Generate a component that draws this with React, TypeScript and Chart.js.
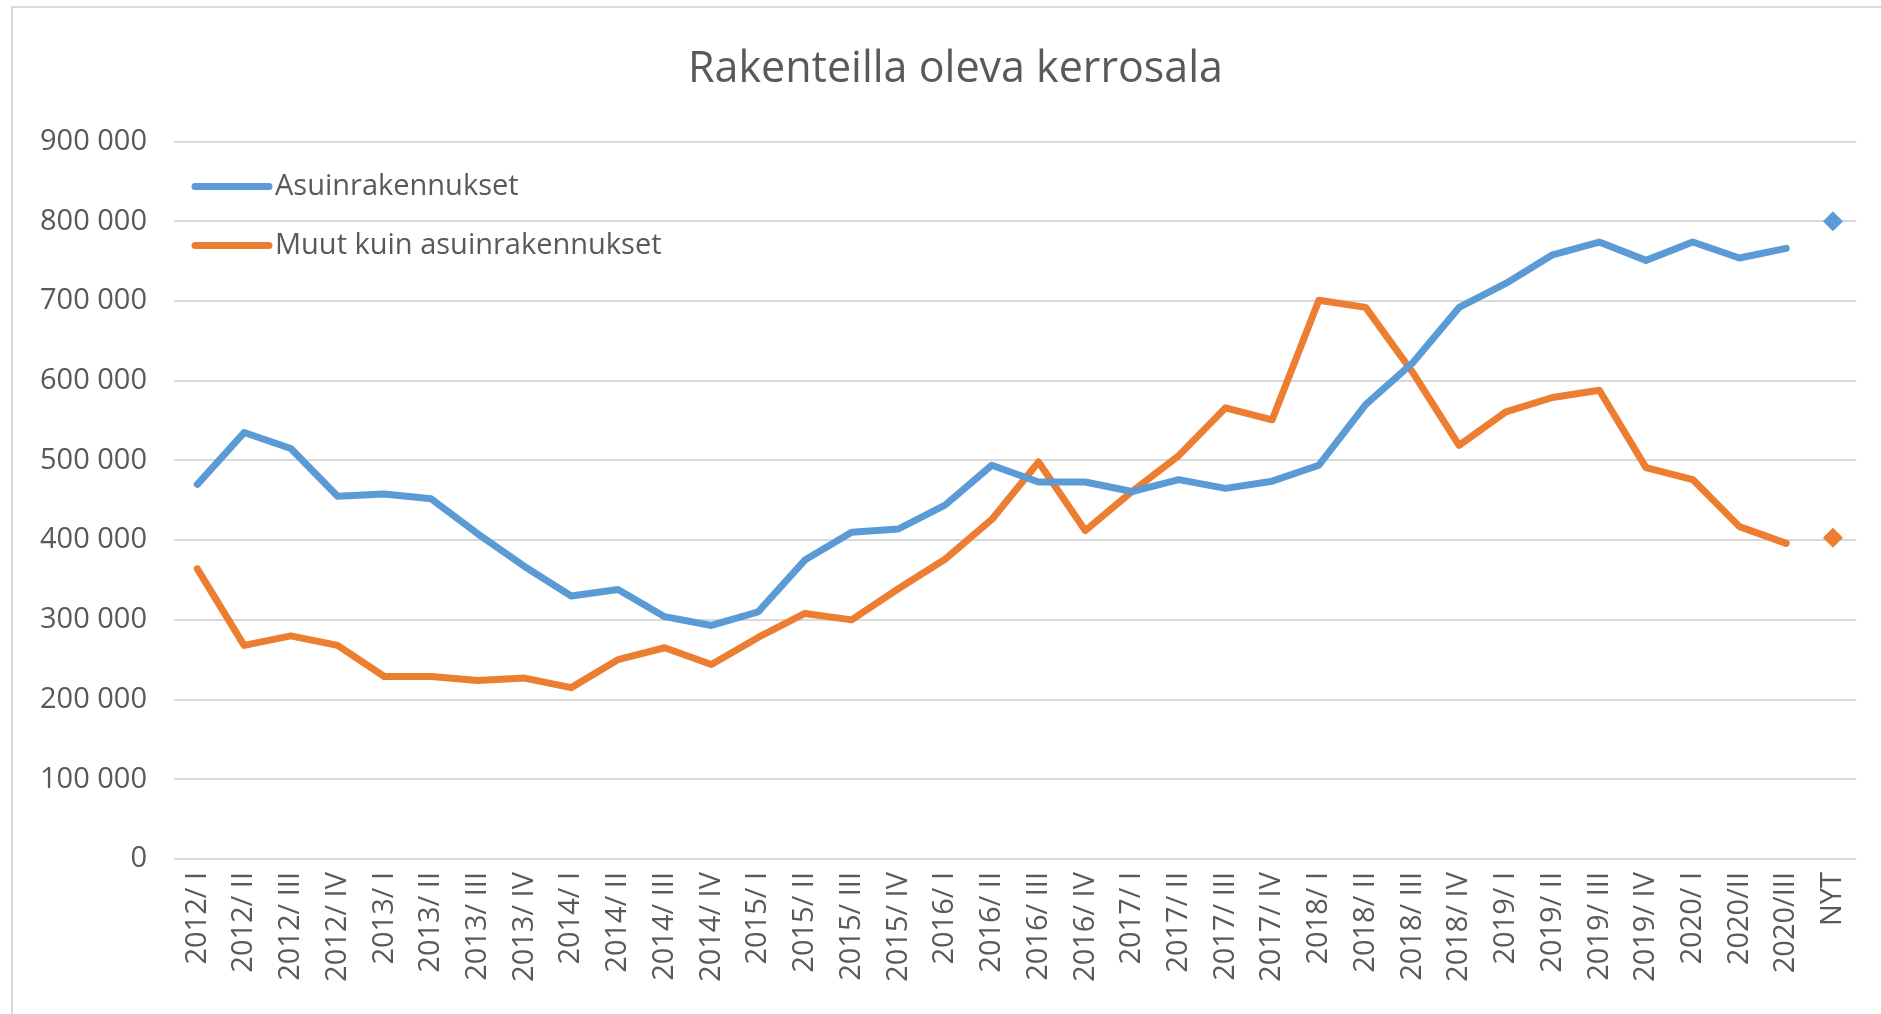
import React, { useEffect, useRef } from "react";
import { Chart, registerables } from "chart.js";

Chart.register(...registerables);

const categories = [
  "2012/ I", "2012/ II", "2012/ III", "2012/ IV",
  "2013/ I", "2013/ II", "2013/ III", "2013/ IV",
  "2014/ I", "2014/ II", "2014/ III", "2014/ IV",
  "2015/ I", "2015/ II", "2015/ III", "2015/ IV",
  "2016/ I", "2016/ II", "2016/ III", "2016/ IV",
  "2017/ I", "2017/ II", "2017/ III", "2017/ IV",
  "2018/ I", "2018/ II", "2018/ III", "2018/ IV",
  "2019/ I", "2019/ II", "2019/ III", "2019/ IV",
  "2020/ I", "2020/II", "2020/III", "NYT",
];

const asuinValues = [
  470000, 535000, 515000, 455000,
  458000, 452000, 408000, 367000,
  330000, 338000, 304000, 293000,
  310000, 375000, 410000, 414000,
  444000, 494000, 473000, 473000,
  461000, 476000, 465000, 474000,
  494000, 570000, 622000, 692000,
  722000, 758000, 774000, 751000,
  774000, 754000, 766000, null,
];

const muutValues = [
  364000, 268000, 280000, 268000,
  229000, 229000, 224000, 227000,
  215000, 250000, 265000, 244000,
  278000, 308000, 300000, 339000,
  376000, 426000, 498000, 412000,
  461000, 506000, 566000, 551000,
  701000, 692000, 611000, 519000,
  561000, 579000, 588000, 491000,
  476000, 417000, 396000, null,
];

const nytAsuin = 800000;
const nytMuut = 403000;

const yTicksMax = 900000;
const yTicksStep = 100000;

const seriesLabels = ["Asuinrakennukset", "Muut kuin asuinrakennukset"];
const titleText = "Rakenteilla oleva kerrosala";

const BLUE = "#5b9bd5";
const ORANGE = "#ed7d31";
const TEXT = "#595959";
const FONT = "'Open Sans', 'DejaVu Sans', sans-serif";

const fmt = (v: number) => String(v).replace(/\B(?=(\d{3})+(?!\d))/g, " ");

const nytSeries = (v: number) => categories.map((c, i) => (i === categories.length - 1 ? v : null));

const bgPlugin = {
  id: "bgAndBorder",
  beforeDraw(chart: any) {
    const { ctx, width, height } = chart;
    ctx.save();
    ctx.fillStyle = "#ffffff";
    ctx.fillRect(0, 0, width, height);
    ctx.strokeStyle = "#d9d9d9";
    ctx.lineWidth = 2;
    ctx.beginPath();
    ctx.moveTo(12, height + 5);
    ctx.lineTo(12, 7);
    ctx.lineTo(width + 5, 7);
    ctx.stroke();
    ctx.restore();
  },
};

const legendPlugin = {
  id: "insideLegend",
  afterDraw(chart: any) {
    const { ctx, chartArea } = chart;
    const rows = [0, 1];
    ctx.save();
    ctx.font = `29px ${FONT}`;
    ctx.textBaseline = "middle";
    ctx.textAlign = "left";
    rows.forEach((i) => {
      const ds = chart.data.datasets[i];
      const y = chartArea.top + 45 + i * 59;
      const x0 = chartArea.left + 21;
      ctx.strokeStyle = ds.borderColor;
      ctx.lineWidth = 7;
      ctx.lineCap = "round";
      ctx.beginPath();
      ctx.moveTo(x0, y);
      ctx.lineTo(x0 + 74, y);
      ctx.stroke();
      ctx.fillStyle = TEXT;
      ctx.fillText(ds.label, x0 + 80, y);
    });
    ctx.restore();
  },
};

export default function App() {
  const ref = useRef<HTMLCanvasElement | null>(null);

  useEffect(() => {
    if (!ref.current) return;
    const chart = new Chart(ref.current, {
      type: "line",
      data: {
        labels: categories,
        datasets: [
          {
            label: seriesLabels[0],
            data: asuinValues,
            borderColor: BLUE,
            backgroundColor: BLUE,
            borderWidth: 7,
            pointRadius: 0,
            borderJoinStyle: "round",
            borderCapStyle: "round",
            tension: 0,
          },
          {
            label: seriesLabels[1],
            data: muutValues,
            borderColor: ORANGE,
            backgroundColor: ORANGE,
            borderWidth: 7,
            pointRadius: 0,
            borderJoinStyle: "round",
            borderCapStyle: "round",
            tension: 0,
          },
          {
            label: seriesLabels[0] + " NYT",
            data: nytSeries(nytAsuin),
            borderColor: BLUE,
            backgroundColor: BLUE,
            showLine: false,
            pointStyle: "rectRot",
            pointRadius: 9.5,
            borderWidth: 1,
          },
          {
            label: seriesLabels[1] + " NYT",
            data: nytSeries(nytMuut),
            borderColor: ORANGE,
            backgroundColor: ORANGE,
            showLine: false,
            pointStyle: "rectRot",
            pointRadius: 9.5,
            borderWidth: 1,
          },
        ],
      },
      options: {
        responsive: false,
        animation: false,
        layout: { padding: { left: 30, right: 0, top: 0, bottom: 0 } },
        plugins: {
          legend: { display: false },
          tooltip: { enabled: false },
          title: {
            display: true,
            text: titleText,
            color: TEXT,
            font: { family: FONT, size: 43, weight: "normal" },
            padding: { top: 44, bottom: 46 },
          },
        },
        scales: {
          x: {
            type: "category",
            offset: true,
            grid: { display: false, drawTicks: false },
            border: { display: false },
            ticks: {
              color: TEXT,
              font: { family: FONT, size: 29 },
              minRotation: 90,
              maxRotation: 90,
              autoSkip: false,
              padding: 13,
            },
            afterFit: (scale: any) => {
              scale.height = 155;
            },
          },
          y: {
            min: 0,
            max: yTicksMax,
            grid: { color: "#d9d9d9", lineWidth: 2, drawTicks: false },
            border: { display: false },
            ticks: {
              stepSize: yTicksStep,
              color: TEXT,
              font: { family: FONT, size: 29 },
              padding: 27,
              callback: (v: any) => fmt(Number(v)),
            },
            afterFit: (scale: any) => {
              scale.width = 144;
            },
          },
          yRightSpacer: {
            type: "linear",
            position: "right",
            display: true,
            grid: { display: false, drawTicks: false },
            border: { display: false },
            ticks: { display: false },
            afterFit: (scale: any) => {
              scale.width = 19;
            },
          },
        },
      },
      plugins: [bgPlugin, legendPlugin],
    });
    return () => chart.destroy();
  }, []);

  return (
    <div style={{ position: "fixed", left: 0, top: 0, width: 1881, height: 1014, background: "#fff" }}>
      <canvas ref={ref} width={1881} height={1014} style={{ width: 1881, height: 1014, display: "block" }} />
    </div>
  );
}
